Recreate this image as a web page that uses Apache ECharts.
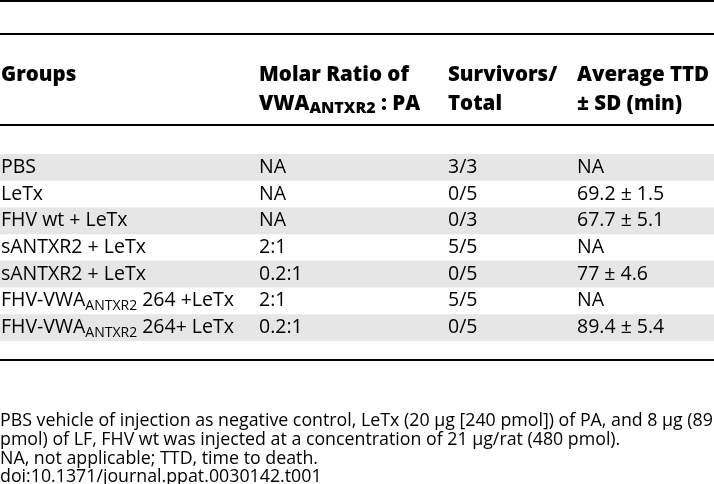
<!DOCTYPE html>
<html><head><meta charset="utf-8">
<script src="https://cdn.jsdelivr.net/npm/echarts@6/dist/echarts.min.js"></script>
<style>html,body{margin:0;padding:0;background:#fff}#c{width:714px;height:484px}</style>
</head><body><div id="c"></div>
<script>
// ---- data ----
var groups = ['PBS', 'LeTx', 'FHV wt + LeTx', 'sANTXR2 + LeTx', 'sANTXR2 + LeTx',
  'FHV-VWA{s|ANTXR2} 264 +LeTx', 'FHV-VWA{s|ANTXR2} 264+ LeTx'];
var ratios = ['NA', 'NA', 'NA', '2:1', '0.2:1', '2:1', '0.2:1'];
var survivors = ['3/3', '0/5', '0/3', '5/5', '0/5', '5/5', '0/5'];
var ttd = ['NA', '69.2 \u00b1 1.5', '67.7 \u00b1 5.1', 'NA', '77 \u00b1 4.6', 'NA', '89.4 \u00b1 5.4'];
var headerLine1 = ['Groups', 'Molar Ratio of', 'Survivors/', 'Average TTD'];
var headerLine2 = ['', 'VWA{s|ANTXR2} : PA', 'Total', '\u00b1 SD (min)'];
var footnotes = [
  'PBS vehicle of injection as negative control, LeTx (20 \u03bcg [240 pmol]) of PA, and 8 \u03bcg (89',
  'pmol) of LF, FHV wt was injected at a concentration of 21 \u03bcg/rat (480 pmol).',
  'NA, not applicable; TTD, time to death.',
  'doi:10.1371/journal.ppat.0030142.t001'
];

// ---- layout ----
var FONT = '"Open Sans", sans-serif';
var colX = [1, 259, 448, 577];
var bodySize = 19.5, headSize = 20.5, footSize = 17.8;
var footY = [421, 440, 459, 477];
var rowIdx = groups.map(function (g, i) { return i; });

var chart = echarts.init(document.getElementById('c'), null, {renderer: 'canvas'});

function richFor(subSize, weight, pad) {
  return {
    s: {fontSize: subSize, fontWeight: weight, fontFamily: FONT, fill: '#000', padding: [pad, 0, 0, 0]}
  };
}

var graphics = [];
[1, 34, 125, 360].forEach(function (y) {
  graphics.push({type: 'rect', left: 0, top: y - 1, shape: {width: 714, height: 2}, style: {fill: '#000'}, silent: true});
});
headerLine1.forEach(function (t, i) {
  graphics.push({type: 'text', x: colX[i], y: 75, style: {text: t, font: '800 ' + headSize + 'px ' + FONT, fill: '#000', align: 'left', verticalAlign: 'middle'}});
});
headerLine2.forEach(function (t, i) {
  if (!t) return;
  graphics.push({type: 'text', x: colX[i], y: 104, style: {text: t, font: '800 ' + headSize + 'px ' + FONT, fill: '#000', align: 'left', verticalAlign: 'middle', lineHeight: 30, rich: richFor(16, 800, 9)}});
});
footnotes.forEach(function (t, i) {
  graphics.push({type: 'text', x: 0, y: footY[i], style: {text: t, font: footSize + 'px ' + FONT, fill: '#000', align: 'left', verticalAlign: 'middle'}});
});

chart.setOption({
  animation: false,
  grid: {left: 0, right: 0, top: 154, bottom: 143, containLabel: false},
  xAxis: {type: 'value', min: 0, max: 714, show: false},
  yAxis: {type: 'category', data: rowIdx, inverse: true, show: false},
  graphic: graphics,
  series: [{
    type: 'custom',
    data: rowIdx.map(function (i) { return [0, i]; }),
    renderItem: function (params, api) {
      var i = api.value(1);
      var c = api.coord([0, i]);
      var h = api.size([0, 1])[1];
      var w = params.coordSys.width;
      var font = bodySize + 'px ' + FONT;
      var cells = [groups[i], ratios[i], survivors[i], ttd[i]];
      var children = [];
      if (i % 2 === 0) {
        children.push({type: 'rect', shape: {x: params.coordSys.x, y: c[1] - h / 2, width: w, height: h}, style: {fill: '#e6e6e6'}});
      }
      cells.forEach(function (t, k) {
        children.push({type: 'text', style: {text: t, x: colX[k], y: c[1], font: font, fill: '#000', align: 'left', verticalAlign: 'middle', lineHeight: 30, rich: richFor(14, 'normal', 10)}});
      });
      return {type: 'group', children: children};
    }
  }]
});
</script>
</body></html>
